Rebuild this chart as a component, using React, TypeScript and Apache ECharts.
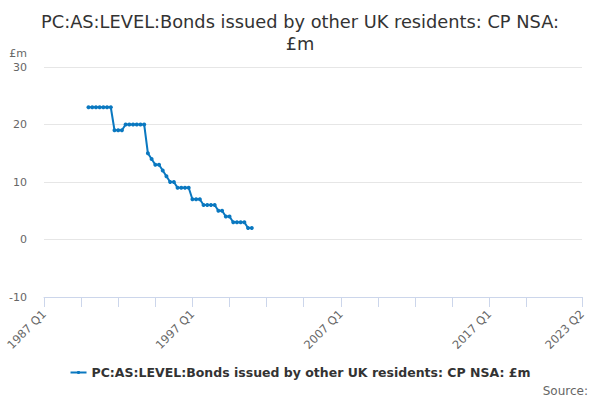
import React, { useEffect, useRef } from "react";
import * as echarts from "echarts";

const TITLE = "PC:AS:LEVEL:Bonds issued by other UK residents: CP NSA:\n£m";
const SERIES_NAME = "PC:AS:LEVEL:Bonds issued by other UK residents: CP NSA: £m";
const FIRST_YEAR = 1987;
const LAST_LABEL = "2023 Q2";
const DATA_START = "1990 Q1";
const values = [
  23, 23, 23, 23, 23, 23, 23,
  19, 19, 19,
  20, 20, 20, 20, 20, 20,
  15, 14, 13, 13, 12, 11, 10, 10,
  9, 9, 9, 9,
  7, 7, 7,
  6, 6, 6, 6,
  5, 5,
  4, 4,
  3, 3, 3, 3,
  2, 2,
];
const yTicks = { min: -10, max: 30, interval: 10 };

function buildCategories(): string[] {
  const out: string[] = [];
  let y = FIRST_YEAR;
  let q = 1;
  while (true) {
    const s = `${y} Q${q}`;
    out.push(s);
    if (s === LAST_LABEL) break;
    q++;
    if (q > 4) { q = 1; y++; }
  }
  return out;
}

export default function App() {
  const ref = useRef<HTMLDivElement>(null);
  useEffect(() => {
    document.body.style.margin = "0";
    if (!ref.current) return;
    const chart = echarts.init(ref.current, null, { renderer: "svg" });
    const categories = buildCategories();
    const startIdx = categories.indexOf(DATA_START);
    const full: (number | null)[] = categories.map(() => null);
    values.forEach((v, i) => { full[startIdx + i] = v; });
    const last = categories.length - 1;
    const color = "#0a78c0";
    chart.setOption({
      animation: false,
      textStyle: { fontFamily: "DejaVu Sans" },
      title: {
        text: TITLE,
        left: "center",
        top: 5,
        textStyle: { fontSize: 17.8, fontWeight: "normal", color: "#333", lineHeight: 22, fontFamily: "DejaVu Sans" },
      },
      grid: { left: 44, right: 18, top: 67, bottom: 103, containLabel: false },
      xAxis: {
        type: "category",
        data: categories,
        boundaryGap: false,
        axisLine: { onZero: false, lineStyle: { color: "#ccd6eb" } },
        axisTick: {
          show: true,
          length: 10,
          lineStyle: { color: "#ccd6eb" },
          interval: (i: number) => (i % 10 === 0 && i <= 130) || i === last,
        },
        axisLabel: {
          rotate: 45,
          fontSize: 11.5,
          color: "#666",
          margin: 15,
          interval: (i: number) => i % 40 === 0 || i === last,
        },
        splitLine: { show: false },
      },
      yAxis: {
        type: "value",
        min: yTicks.min,
        max: yTicks.max,
        interval: yTicks.interval,
        name: "£m",
        nameLocation: "end",
        nameGap: 8,
        nameTextStyle: { align: "right", padding: [0, 17, 0, 0], fontSize: 11, color: "#666" },
        axisLine: { show: false },
        axisTick: { show: false },
        axisLabel: { fontSize: 11, color: "#666", margin: 17 },
        splitLine: { lineStyle: { color: "#e6e6e6" } },
      },
      legend: {
        bottom: 16,
        left: "center",
        itemWidth: 16,
        itemHeight: 4,
        itemGap: 6,
        textStyle: { fontSize: 12.5, fontWeight: "bold", color: "#333" },
        data: [SERIES_NAME],
      },
      graphic: [
        {
          type: "text",
          right: 12,
          bottom: 3,
          style: { text: "Source:", fontSize: 12, fill: "#666", fontFamily: "DejaVu Sans" },
        },
      ],
      series: [
        {
          name: SERIES_NAME,
          type: "line",
          data: full,
          connectNulls: false,
          showSymbol: true,
          showAllSymbol: true,
          symbol: "circle",
          symbolSize: 4,
          itemStyle: { color },
          lineStyle: { color, width: 2 },
        },
      ],
    });
    return () => chart.dispose();
  }, []);
  return <div ref={ref} style={{ width: 600, height: 400 }} />;
}
